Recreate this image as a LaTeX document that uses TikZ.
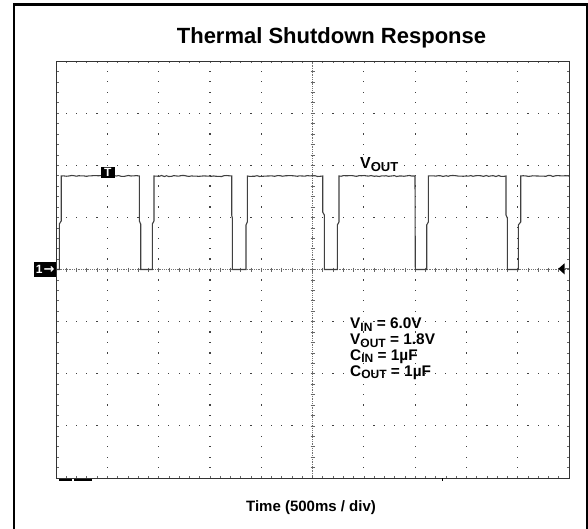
\documentclass[tikz,border=0pt]{standalone}
\usepackage{fontspec}
\setmainfont{Liberation Sans}
\newfontfamily\arrowfont{DejaVu Sans}
\usetikzlibrary{decorations.pathmorphing}
\newcommand{\lowtxt}[2]{\raisebox{-2.7pt}{\fontsize{#1}{#1}\selectfont #2}}
\begin{document}
\begin{tikzpicture}[x=1pt,y=-1pt,
  outerframe/.style={line width=2.6pt,black},
  plotborder/.style={line width=0.9pt,black!80},
  griddot/.style={fill=black!75},
  axisline/.style={line width=0.7pt,black!55,dash pattern=on 1pt off 0.8pt},
  tickline/.style={line width=0.6pt,black!60},
  trace/.style={line width=1.1pt,black!75,line join=miter},
  noisy/.style={decoration={random steps,segment length=2.5pt,amplitude=0.5pt}},
  lbl/.style={font=\fontsize{15.4}{15.4}\selectfont\bfseries,inner sep=0pt,anchor=base west},
  markbox/.style={fill=black,text=white,inner sep=0pt,font=\fontsize{12}{12}\selectfont\bfseries}]
\useasboundingbox (0,0) rectangle (588,529);
\clip (0,0) rectangle (588,529);
\pgfmathsetseed{7}
% outer frame
\draw[outerframe] (14,540) -- (14,4.7) -- (586.8,4.7) -- (586.8,540);
% grid dots
\foreach \i in {1,2,3,4,6,7,8,9}
  \foreach \j in {1,...,39}
    \fill[griddot] ({56+\i*51.3-0.6},{61+\j*10.425-0.6}) rectangle ++(1.2,1.2);
\foreach \j in {1,2,3,5,6,7}
  \foreach \i in {1,...,49}
    \fill[griddot] ({56+\i*10.26-0.6},{61+\j*52.125-0.6}) rectangle ++(1.2,1.2);
% centre axes
\draw[axisline] (56,269.5) -- (569,269.5);
\draw[axisline] (312.5,61) -- (312.5,478);
\foreach \i in {1,...,49} {
  \draw[tickline] ({56+\i*10.26},267.5) -- ++(0,4);
  \draw[tickline] ({56+\i*10.26},61) -- ++(0,2.5);
  \draw[tickline] ({56+\i*10.26},478) -- ++(0,-2.5);
}
\foreach \j in {1,...,39} {
  \draw[tickline] (310.5,{61+\j*10.425}) -- ++(4,0);
  \draw[tickline] (56,{61+\j*10.425}) -- ++(2.5,0);
  \draw[tickline] (569,{61+\j*10.425}) -- ++(-2.5,0);
}
% trace
\draw[trace] (56.5,269.5) -- (59.3,269.5) -- (59.3,224) -- (61.2,221) -- (61.2,176)
  decorate[noisy]{-- (139.3,176)} -- (139.3,221) -- (140.7,224) -- (140.7,269.5)
  -- (152.3,269.5) -- (152.3,224) -- (154,221) -- (154,176)
  decorate[noisy]{-- (231.7,176)} -- (231.7,215) -- (232.3,218) -- (232.3,269.5)
  -- (246,269.5) -- (246,225) -- (247.3,222) -- (247.3,176)
  decorate[noisy]{-- (322.7,176)} -- (322.7,212) -- (324.3,215) -- (324.3,269.5)
  -- (337.3,269.5) -- (337.3,225) -- (339,222) -- (339,176)
  decorate[noisy]{-- (415,176)} -- (415.3,269.5)
  -- (426.7,269.5) -- (426.7,225) -- (428.3,222) -- (428.3,176)
  decorate[noisy]{-- (506,176)} -- (506,215) -- (507.3,218) -- (507.3,269.5)
  -- (518.3,269.5) -- (518.3,225) -- (520.7,222) -- (520.7,176)
  decorate[noisy]{-- (569,176)};
% plot border
\draw[plotborder] (56,61) rectangle (569,478);
% marks below the plot
\draw[line width=1.8pt] (59.3,479.6) -- (71.7,479.6);
\draw[line width=1.8pt] (74,479.6) -- (91.7,479.6);
\draw[line width=0.9pt] (442,478) -- (442,481);
% markers
\node[markbox,minimum width=13.5pt,minimum height=11.5pt] (tmark) at (107.8,172.3) {T};
\node[markbox,minimum width=22pt,minimum height=15pt] (chmark) at (45.2,269.2) {1\kern1pt{\arrowfont\bfseries\fontsize{13}{13}\selectfont →}};
\fill (558.3,268.8) -- (564.5,263.3) -- (564.5,274.3) -- cycle;
\draw[black!60,line width=1pt] (564.5,268.8) -- (569,268.8);
% texts
\node[font=\fontsize{22}{22}\selectfont\bfseries,anchor=base,inner sep=0pt] (title) at (331.5,43.3) {Thermal Shutdown Response};
\node[lbl,font=\fontsize{16}{16}\selectfont\bfseries] (voutlbl) at (360,168.8) {V\lowtxt{13}{OUT}};
\node[lbl] (p1) at (350,328.3) {V\lowtxt{12}{IN} = 6.0V};
\node[lbl] (p2) at (350,344.3) {V\lowtxt{12}{OUT} = 1.8V};
\node[lbl] (p3) at (350,360) {C\lowtxt{12}{IN} = 1µF};
\node[lbl] (p4) at (350,376) {C\lowtxt{12}{OUT} = 1µF};
\node[font=\fontsize{15}{15}\selectfont\bfseries,anchor=base,inner sep=0pt] (timelbl) at (311,511) {Time (500ms / div)};
\end{tikzpicture}
\end{document}
